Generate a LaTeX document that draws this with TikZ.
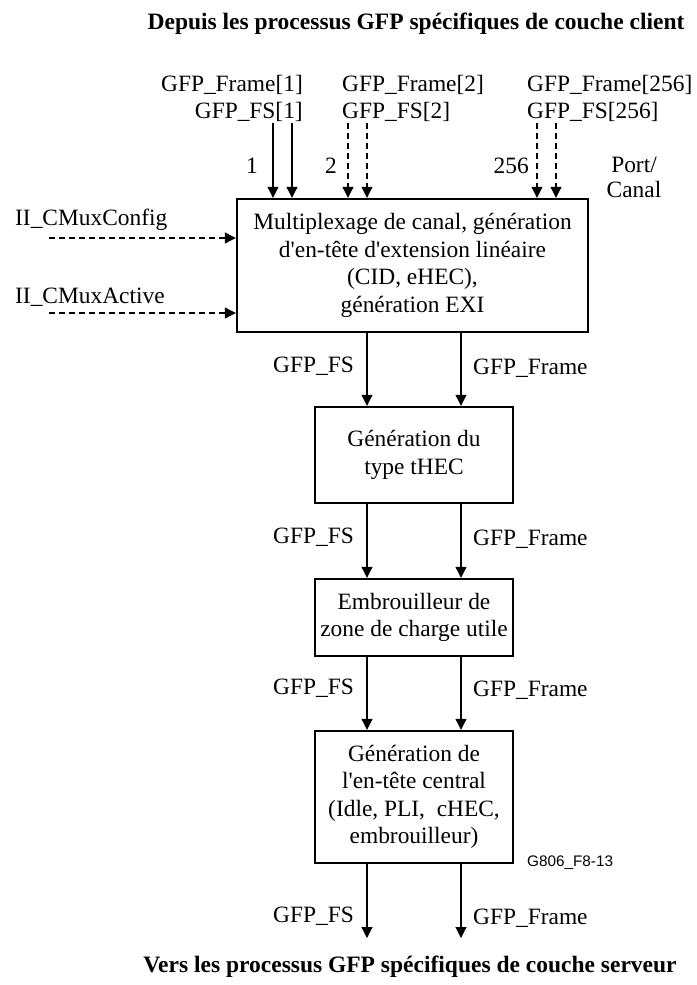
\documentclass[tikz,border=0pt]{standalone}
\usepackage{fontspec}
\setmainfont{Liberation Serif}[Ligatures=TeXOff]
\newfontfamily\labelsans{Liberation Sans}
\usetikzlibrary{arrows.meta}
\begin{document}
\begin{tikzpicture}[x=1pt,y=-1pt,
  txt/.style={font=\fontsize{23.4}{27.5}\selectfont, inner sep=0pt},
  box/.style={draw, line width=2.4pt, align=center, inner sep=0pt, font=\fontsize{23.4}{27.5}\selectfont},
  flow/.style={line width=1.1pt, -{Triangle[length=11pt,width=11pt]}},
  dflow/.style={flow, dash pattern=on 6pt off 4pt},
  ttl/.style={font=\fontsize{23.5}{27}\selectfont\bfseries, inner sep=0pt}]
\useasboundingbox (0,0) rectangle (696,985);

% titles
\node[ttl] (t1) at (416,24) {Depuis les processus GFP spécifiques de couche client};
\node[ttl] (t2) at (410,967) {Vers les processus GFP spécifiques de couche serveur};

% boxes
\node[box, minimum width=351pt, minimum height=133pt] (mux) at (412.5,265.5)
  {Multiplexage de canal, génération\\d'en-tête d'extension linéaire\\(CID, eHEC),\\génération EXI};
\node[box, minimum width=198pt, minimum height=96pt] (thec) at (414,455)
  {Génération du\\type tHEC};
\node[box, minimum width=198pt, minimum height=77pt] (scr) at (414,617.5)
  {Embrouilleur de\\zone de charge utile};
\node[box, minimum width=198pt, minimum height=132pt] (core) at (414,797)
  {Génération de\\l'en-tête central\\(Idle, PLI,~ cHEC,\\embrouilleur)};

% top input labels
\node[txt, anchor=base east] (f1) at (303,91) {GFP\_Frame[1]};
\node[txt, anchor=base east] (s1) at (303,118) {GFP\_FS[1]};
\node[txt, anchor=base west] (f2) at (342,91) {GFP\_Frame[2]};
\node[txt, anchor=base west] (s2) at (342,118) {GFP\_FS[2]};
\node[txt, anchor=base west] (f256) at (527,91) {GFP\_Frame[256]};
\node[txt, anchor=base west] (s256) at (527,118) {GFP\_FS[256]};
\node[txt, anchor=base] (n1) at (252,173) {1};
\node[txt, anchor=base] (n2) at (331,173) {2};
\node[txt, anchor=base east] (n256) at (529,173) {256};
\node[txt, anchor=base] (port) at (634,172) {Port/};
\node[txt, anchor=base] (canal) at (634,197) {Canal};

% top arrows
\coordinate (a1) at (273,123);
\coordinate (a2) at (292,123);
\coordinate (a3) at (348,123);
\coordinate (a4) at (367,123);
\coordinate (a5) at (537,123);
\coordinate (a6) at (556,123);
\draw[flow] (a1) -- (a1 |- mux.north);
\draw[flow] (a2) -- (a2 |- mux.north);
\draw[dflow] (a3) -- (a3 |- mux.north);
\draw[dflow] (a4) -- (a4 |- mux.north);
\draw[dflow] (a5) -- (a5 |- mux.north);
\draw[dflow] (a6) -- (a6 |- mux.north);

% left control inputs
\node[txt, anchor=base west] (cfg) at (15,225) {II\_CMuxConfig};
\node[txt, anchor=base west] (act) at (15,303) {II\_CMuxActive};
\coordinate (c1) at (49,238);
\coordinate (c2) at (49,313);
\draw[dflow] (c1) -- (c1 -| mux.west);
\draw[dflow] (c2) -- (c2 -| mux.west);

% vertical flow
\coordinate (xl) at (367,0);
\coordinate (xr) at (461,0);
\draw[flow] (xl |- mux.south) -- (xl |- thec.north);
\draw[flow] (xr |- mux.south) -- (xr |- thec.north);
\draw[flow] (xl |- thec.south) -- (xl |- scr.north);
\draw[flow] (xr |- thec.south) -- (xr |- scr.north);
\draw[flow] (xl |- scr.south) -- (xl |- core.north);
\draw[flow] (xr |- scr.south) -- (xr |- core.north);
\coordinate (ol) at (367,938);
\coordinate (or) at (461,938);
\draw[flow] (xl |- core.south) -- (ol);
\draw[flow] (xr |- core.south) -- (or);

% flow labels
\node[txt, anchor=base east] (l1) at (354,372) {GFP\_FS};
\node[txt, anchor=base west] (r1) at (473,374) {GFP\_Frame};
\node[txt, anchor=base east] (l2) at (354,543) {GFP\_FS};
\node[txt, anchor=base west] (r2) at (473,545) {GFP\_Frame};
\node[txt, anchor=base east] (l3) at (354,694) {GFP\_FS};
\node[txt, anchor=base west] (r3) at (473,696) {GFP\_Frame};
\node[txt, anchor=base east] (l4) at (354,922) {GFP\_FS};
\node[txt, anchor=base west] (r4) at (473,924) {GFP\_Frame};

% figure id
\node[inner sep=0pt, anchor=base west, font=\labelsans\fontsize{15.3}{17}\selectfont] (fid) at (527,866) {G806\_F8-13};
\end{tikzpicture}
\end{document}
